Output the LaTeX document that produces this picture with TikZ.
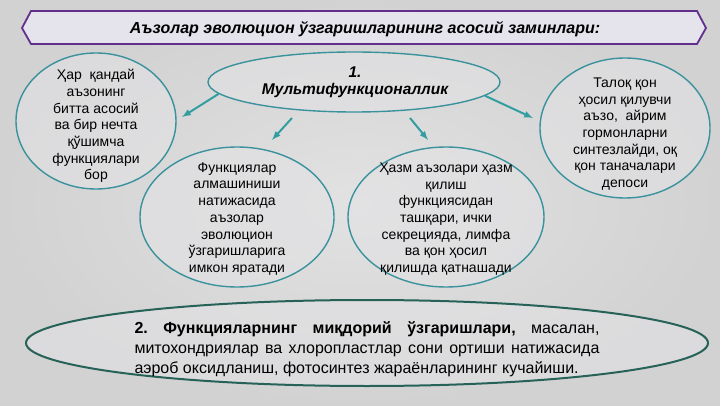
\documentclass[tikz,border=0pt]{standalone}
\usepackage{fontspec}
\setmainfont{Liberation Sans}
\usetikzlibrary{shapes.geometric, arrows}
\definecolor{bgedge}{RGB}{210,210,211}
\definecolor{bgmid}{RGB}{226,226,227}
\definecolor{myteal}{RGB}{58,146,156}
\definecolor{myarrow}{RGB}{50,158,160}
\definecolor{mydark}{RGB}{38,98,88}
\definecolor{mypurple}{RGB}{98,48,140}
\definecolor{mylav}{RGB}{229,227,235}
\definecolor{myfill}{RGB}{226,226,228}

\begin{document}
\frenchspacing
\begin{tikzpicture}[x=1pt, y=-1pt, >=latex,
	bubble/.style={ellipse, draw=myteal, line width=1.4pt, fill=myfill, fill opacity=0.6, inner sep=0pt},
	txt/.style={align=center, inner sep=0pt, font=\fontsize{14}{16.7}\selectfont},
	arr/.style={->, draw=myarrow, line width=2pt}]
	\useasboundingbox (0,0) rectangle (720,406);
	\shade[inner color=bgmid, outer color=bgedge] (0,0) rectangle (720,406);
	%Titel
	\draw[line width=1.8pt, draw=mypurple, fill=mylav] (22,28) -- (31,11) -- (697,11) -- (706,28) -- (697,44) -- (31,44) -- cycle;
	\node[inner sep=0pt, font=\fontsize{16}{18}\selectfont\bfseries\itshape] (title) at (365,29) {Аъзолар эволюцион ўзгаришларининг асосий заминлари:};
	%Ellipsen
	\node[bubble, minimum width=292pt, minimum height=60pt] (multi) at (354,82) {};
	\node[txt, font=\fontsize{15.5}{17}\selectfont\bfseries\itshape] (multitxt) at (355,82) {1.\\ Мультифункционаллик};
	\node[bubble, minimum width=160pt, minimum height=136pt] (basic) at (96,121) {};
	\node[txt] (basictxt) at (96,126) {Ҳар~~қандай\\ аъзонинг\\ битта асосий\\ ва бир нечта\\ қўшимча\\ функциялари\\ бор};
	\node[bubble, minimum width=170pt, minimum height=140pt] (spleen) at (625,128) {};
	\node[txt] (spleentxt) at (625,134) {Талоқ қон\\ ҳосил қилувчи\\ аъзо,~~айрим\\ гормонларни\\ синтезлайди, оқ\\ қон таначалари\\ депоси};
	\node[bubble, minimum width=194pt, minimum height=140pt] (change) at (237,217) {};
	\node[txt] (changetxt) at (237,219) {Функциялар\\ алмашиниши\\ натижасида\\ аъзолар\\ эволюцион\\ ўзгаришларига\\ имкон яратади};
	\node[bubble, minimum width=196pt, minimum height=140pt] (digest) at (446,217) {};
	\node[txt] (digesttxt) at (446,219) {Ҳазм аъзолари ҳазм\\ қилиш\\ функциясидан\\ ташқари, ички\\ секрецияда, лимфа\\ ва қон ҳосил\\ қилишда қатнашади};
	\node[bubble, draw=mydark, line width=2pt, minimum width=682pt, minimum height=86pt] (quant) at (367,343) {};
	\node[inner sep=0pt, text width=465pt, align=justify, font=\fontsize{16}{20}\selectfont] (quanttxt) at (367,349)
		{\textbf{2. Функцияларнинг миқдорий ўзгаришлари,} масалан,\linebreak митохондриялар ва хлоропластлар сони ортиши натижасида\linebreak аэроб оксидланиш, фотосинтез жараёнларининг кучайиши.};
	%Pfeile
	\coordinate (a1) at (182,117);
	\coordinate (a2s) at (292,118);
	\coordinate (a2) at (272,140);
	\coordinate (a3s) at (410,118);
	\coordinate (a3) at (428,140);
	\coordinate (a4) at (533,118);
	\draw[arr] (multi.185) -- (a1);
	\draw[arr] (a2s) -- (a2);
	\draw[arr] (a3s) -- (a3);
	\draw[arr] (multi.354) -- (a4);
\end{tikzpicture}
\end{document}
